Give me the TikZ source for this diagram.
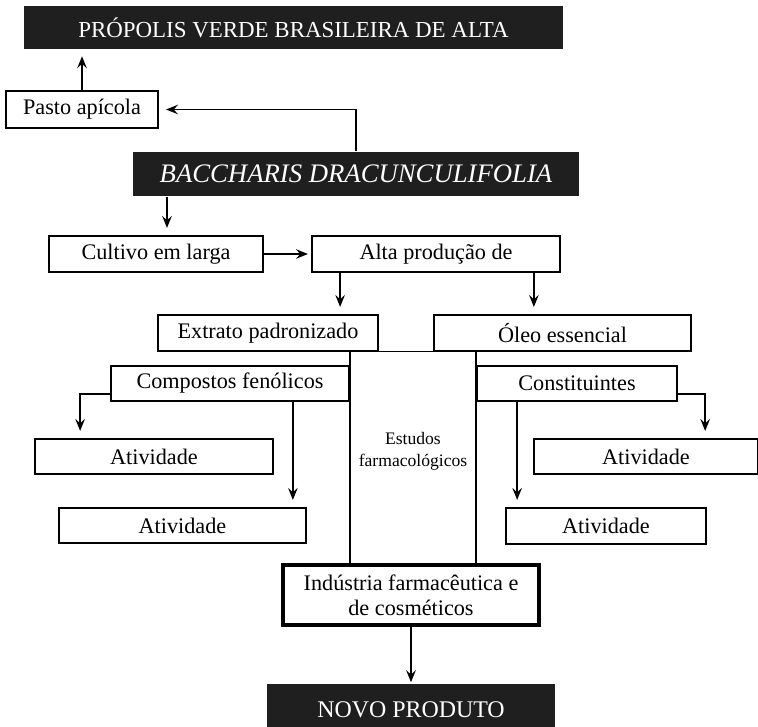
\documentclass[tikz,border=0pt]{standalone}
\usepackage{fontspec}
\setmainfont{Liberation Serif}
\usetikzlibrary{arrows.meta,calc}

\begin{document}
\begin{tikzpicture}[x=0.025cm,y=-0.025cm,thick]
    % `box' is used for the white boxes, `dark' for the black banners.
    % `arr' is used for all the arrows.
    \tikzstyle{box} = [draw,fill=white,line width=1.2pt,minimum height=0.9cm,inner sep=2pt,
      font=\fontsize{15.8}{18}\selectfont]
    \tikzstyle{dark} = [fill=black!88,text=white,minimum height=1.05cm,inner sep=2pt]
    \tikzstyle{arr} = [line width=1.2pt,-{Stealth[length=3mm,width=2.4mm,inset=1.1mm]},shorten >=1.8mm]
    \tikzstyle{link} = [line width=1.2pt]
    %
    \useasboundingbox (0,0) rectangle (758,727);
    % banners
    \node[dark,minimum width=13.475cm,font=\fontsize{16.3}{18}\selectfont] (propolis) at (293.5,27.5)
      {PRÓPOLIS VERDE BRASILEIRA DE ALTA};
    \node[dark,minimum width=11.15cm,minimum height=1.1cm,font=\fontsize{19}{22}\selectfont\itshape] (baccharis) at (356,174)
      {BACCHARIS DRACUNCULIFOLIA};
    \node[dark,minimum width=7.2cm,minimum height=1.3cm,font=\fontsize{17}{20}\selectfont] (novo) at (411,710)
      {NOVO PRODUTO};
    % white boxes
    \node[box,minimum width=3.8cm,minimum height=0.925cm] (pasto) at (82,109.5) {Pasto apícola};
    \node[box,minimum width=5.35cm] (cultivo) at (156,254) {Cultivo em larga};
    \node[box,minimum width=6.2cm] (alta) at (436,254) {Alta produção de};
    \node[box,minimum width=5.5cm] (extrato) at (268,333) {Extrato padronizado};
    \node[box,minimum width=6.425cm] (oleo) at (562.5,333) {Óleo essencial};
    \node[box,minimum width=5.95cm,minimum height=0.875cm] (compostos) at (230,383.5) {Compostos fenólicos};
    \node[box,minimum width=5cm,minimum height=0.875cm] (constituintes) at (577,383.5) {Constituintes};
    \node[box,minimum width=5.95cm,minimum height=0.875cm] (ativA) at (154,456.5) {Atividade};
    \node[box,minimum width=6.175cm,minimum height=0.875cm] (ativB) at (182.5,525.5) {Atividade};
    \node[box,minimum width=5.6cm,minimum height=0.875cm] (ativC) at (646,456.5) {Atividade};
    \node[box,minimum width=5cm,minimum height=0.9cm] (ativD) at (606,526) {Atividade};
    \node[box,line width=2.2pt,minimum width=6.4cm,minimum height=1.5cm,align=center] (industria) at (411,595)
      {Indústria farmacêutica e\\de cosméticos};
    \node[align=center,font=\fontsize{12.5}{15.6}\selectfont] (estudos) at (413,451)
      {Estudos\\farmacológicos};
    %
    % Draw arrows.
    \draw[arr] (pasto.north) -- (pasto.north |- propolis.south);
    \draw[arr] (baccharis.north) |- (pasto.east);
    \draw[arr] ([xshift=0.275cm]cultivo.north |- baccharis.south) -- ([xshift=0.275cm]cultivo.north);
    \draw[arr,shorten >=0.8mm] (cultivo.east) -- (alta.west);
    \draw[arr] ([xshift=0.725cm]alta.south west) -- ([xshift=0.725cm]alta.south west |- extrato.north);
    \draw[arr] ([xshift=-0.675cm]alta.south east) -- ([xshift=-0.675cm]alta.south east |- oleo.north);
    \draw[link,line width=0.8pt] (extrato.south east) -- (oleo.south west);
    \draw[link] (compostos.east |- extrato.south) -- (compostos.east |- industria.north);
    \draw[link] (constituintes.west |- oleo.south) -- (constituintes.west |- industria.north);
    \draw[arr] ([yshift=0.2cm]compostos.south west) -| ([xshift=1.15cm]ativA.north west);
    \draw[arr] ([xshift=-1.425cm]compostos.south east) -- ([xshift=-1.425cm]compostos.south east |- ativB.north);
    \draw[arr] ([yshift=0.2cm]constituintes.south east) -| ([xshift=4.3cm]ativC.north west);
    \draw[arr] ([xshift=1.025cm]constituintes.south west) -- ([xshift=1.025cm]constituintes.south west |- ativD.north);
    \draw[arr,shorten >=0.3mm] (industria.south) -- (novo.north);
\end{tikzpicture}
\end{document}
